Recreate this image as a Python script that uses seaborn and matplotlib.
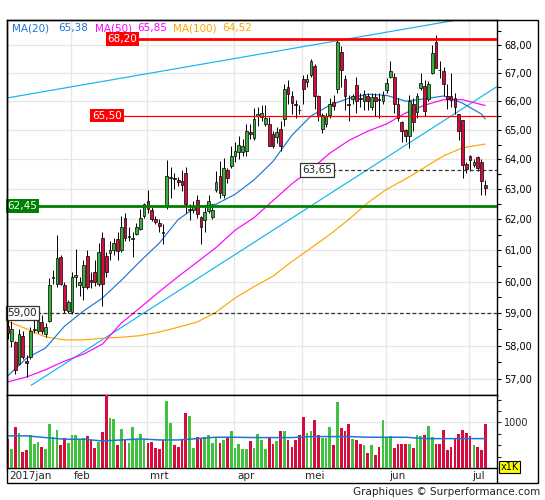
import numpy as np
import pandas as pd
import matplotlib
matplotlib.use("Agg")
import matplotlib.pyplot as plt
import matplotlib.transforms as mtransforms
from matplotlib.ticker import FixedLocator, FuncFormatter, NullFormatter
from matplotlib.patches import Rectangle
from matplotlib.lines import Line2D
import seaborn as sns

# trading days shown on the chart
holidays = ["2017-04-14", "2017-04-17", "2017-05-01"]
dates = pd.bdate_range("2017-01-09", "2017-07-07")
dates = dates[~dates.isin(pd.to_datetime(holidays))]
month_labels = ["2017jan", "feb", "mrt", "apr", "mei", "jun", "jul"]

opens = [58.62, 58.14, 58.11, 57.44, 58.30, 57.53, 57.65, 58.48, 58.45, 58.73,
         58.36, 58.76, 60.10, 59.92, 60.78, 59.88, 59.07, 59.04, 60.15, 59.90,
         59.82, 60.81, 60.05, 60.30, 59.92, 61.40, 60.80, 60.90, 61.00, 61.35,
         61.00, 62.05, 61.42, 61.38, 61.52, 61.70, 62.13, 62.62, 62.30, 62.00,
         61.90, 61.60, 62.43, 63.38, 63.38, 63.30, 63.27, 63.55, 62.30, 62.30,
         62.65, 62.07, 61.97, 62.28, 62.07, 62.98, 63.44, 62.82, 63.64, 63.77,
         64.10, 64.24, 64.24, 64.30, 64.92, 64.71, 65.50, 65.45, 65.21, 65.21,
         64.88, 64.75, 65.05, 65.38, 66.50, 66.17, 65.90, 65.70, 66.76, 66.66,
         66.93, 67.25, 66.17, 65.05, 65.21, 65.52, 65.97, 66.41, 67.75, 66.76,
         65.90, 66.07, 66.55, 66.10, 66.00, 66.17, 65.80, 66.14, 66.07, 66.00,
         66.38, 66.86, 66.83, 65.90, 65.28, 65.00, 64.79, 65.90, 65.62, 66.45,
         66.52, 66.07, 67.00, 68.10, 67.10, 67.07, 66.17, 66.17, 66.10, 65.55,
         65.35, 63.83, 64.10, 63.80, 64.07, 63.90, 63.14]
highs = [58.80, 58.75, 58.15, 58.50, 58.45, 57.72, 58.57, 58.82, 58.90, 58.95,
         58.70, 60.10, 60.38, 61.50, 60.85, 60.00, 59.42, 60.30, 61.05, 60.15,
         60.70, 61.00, 60.30, 60.70, 61.25, 61.60, 60.95, 61.30, 61.40, 61.60,
         62.10, 62.20, 61.75, 61.60, 61.90, 62.35, 62.55, 62.97, 62.40, 62.10,
         62.00, 61.85, 63.98, 63.75, 63.55, 63.40, 63.63, 63.74, 62.50, 62.60,
         62.80, 62.10, 62.40, 62.80, 62.50, 63.60, 63.95, 64.05, 63.70, 64.46,
         64.60, 64.80, 64.70, 65.20, 65.20, 65.75, 65.80, 65.85, 65.85, 65.45,
         64.95, 65.10, 65.30, 66.60, 66.75, 66.35, 66.05, 65.85, 66.90, 66.95,
         67.50, 67.30, 66.20, 65.60, 65.60, 66.10, 66.20, 68.20, 67.95, 66.90,
         66.20, 66.25, 66.85, 66.30, 66.40, 66.30, 66.30, 66.30, 66.30, 66.35,
         66.80, 67.42, 67.00, 66.10, 65.30, 65.05, 66.20, 66.10, 66.30, 67.00,
         66.75, 66.70, 68.00, 68.36, 67.40, 67.20, 66.60, 67.00, 66.30, 65.55,
         65.35, 63.90, 64.15, 64.00, 64.10, 64.00, 63.30]
lows = [58.20, 57.96, 57.15, 57.41, 57.60, 57.05, 57.60, 58.39, 58.39, 58.36,
        58.26, 58.73, 59.92, 59.82, 59.88, 59.00, 59.00, 58.98, 59.82, 59.55,
        59.41, 59.75, 59.80, 59.85, 59.85, 59.24, 60.15, 60.70, 60.85, 60.70,
        60.95, 61.30, 61.30, 60.78, 61.50, 61.65, 62.05, 62.20, 61.95, 61.85,
        61.60, 61.20, 62.34, 62.70, 63.00, 63.10, 62.94, 62.20, 61.98, 62.20,
        62.05, 61.20, 61.60, 62.20, 62.00, 62.90, 62.70, 62.70, 63.20, 63.70,
        63.90, 64.00, 64.10, 64.10, 64.70, 64.65, 65.15, 65.30, 65.15, 64.45,
        64.40, 64.55, 64.30, 65.15, 65.90, 65.55, 65.40, 65.55, 65.90, 66.50,
        66.85, 65.72, 65.30, 64.90, 65.10, 65.40, 65.70, 66.30, 66.50, 65.70,
        65.30, 65.90, 65.60, 65.80, 65.70, 65.70, 65.70, 65.50, 65.40, 65.90,
        66.30, 66.80, 65.60, 65.30, 64.60, 64.60, 64.40, 64.95, 65.40, 66.40,
        65.50, 66.00, 66.97, 67.15, 66.80, 66.17, 65.72, 65.80, 65.55, 64.65,
        63.37, 63.55, 63.60, 63.75, 63.60, 62.82, 62.80]
closes = [58.39, 58.50, 57.26, 58.36, 57.65, 57.47, 58.45, 58.50, 58.76, 58.45,
          58.57, 59.88, 60.15, 60.75, 59.92, 59.10, 59.35, 60.14, 60.20, 59.98,
          60.53, 59.82, 60.00, 59.98, 60.94, 59.92, 60.30, 61.02, 61.25, 60.98,
          61.75, 61.40, 61.45, 61.40, 61.75, 62.05, 62.50, 62.33, 62.03, 61.91,
          61.80, 61.55, 63.44, 63.40, 63.35, 63.25, 63.13, 62.50, 62.35, 62.45,
          62.18, 61.75, 62.23, 62.60, 62.30, 63.23, 62.88, 63.70, 63.37, 64.10,
          64.30, 64.50, 64.47, 64.95, 64.88, 65.38, 65.55, 65.60, 65.42, 64.47,
          64.47, 64.92, 64.47, 66.41, 66.24, 65.95, 65.88, 65.68, 66.41, 66.76,
          67.40, 66.17, 65.48, 65.52, 65.48, 65.90, 65.83, 68.10, 67.11, 66.17,
          65.85, 66.17, 66.00, 66.08, 66.24, 66.00, 66.14, 66.00, 66.05, 66.20,
          66.62, 67.07, 65.90, 65.42, 64.96, 64.79, 66.00, 65.28, 66.17, 66.62,
          65.67, 66.59, 67.71, 67.18, 67.08, 66.59, 66.07, 66.05, 65.80, 64.96,
          63.80, 63.67, 63.97, 63.90, 63.70, 63.27, 63.05]
volumes = [630, 407, 889, 778, 356, 393, 726, 519, 570, 467,
           422, 956, 681, 837, 511, 667, 556, 719, 726, 622,
           667, 704, 607, 444, 570, 800, 1593, 1089, 1074, 496,
           844, 630, 556, 889, 644, 756, 644, 556, 570, 444,
           422, 615, 1467, 978, 496, 467, 644, 1200, 1148, 444,
           681, 667, 681, 726, 556, 667, 541, 607, 667, 815,
           444, 533, 422, 422, 593, 444, 756, 607, 422, 689,
           533, 593, 807, 815, 615, 467, 622, 726, 1111, 763,
           815, 1059, 719, 667, 667, 889, 496, 1444, 867, 815,
           956, 644, 607, 519, 511, 333, 496, 274, 467, 1044,
           652, 711, 430, 533, 533, 533, 533, 430, 719, 704,
           719, 919, 689, 533, 533, 822, 400, 452, 667, 756,
           822, 778, 704, 504, 452, 400, 956]

# moving averages every 5 sessions
ma_idx = list(range(0, 126, 5)) + [126]
ma20 = [57.08, 57.62, 57.93, 58.60, 59.07, 59.48, 60.04, 60.65, 61.23, 62.00,
        62.43, 62.50, 62.83, 63.31, 63.93, 64.82, 65.48, 65.86, 66.10, 66.24,
        66.20, 66.00, 66.08, 66.18, 65.93, 65.55, 65.38]
ma50 = [56.90, 57.05, 57.27, 57.53, 57.74, 58.05, 58.70, 59.18, 59.68, 60.16,
        60.62, 61.09, 61.65, 62.06, 62.62, 63.18, 63.66, 64.21, 64.64, 64.96,
        65.21, 65.59, 65.86, 66.05, 66.05, 65.88, 65.85]
ma100 = [58.75, 58.52, 58.27, 58.18, 58.18, 58.23, 58.26, 58.31, 58.42, 58.57,
         58.73, 59.04, 59.48, 59.84, 60.17, 60.64, 61.07, 61.51, 62.00, 62.55,
         63.00, 63.34, 63.73, 64.12, 64.39, 64.50, 64.52]
vol_ma = [704, 704, 667, 630, 630, 593, 615, 637, 615, 615, 644, 674, 674, 667,
          667, 667, 689, 689, 689, 674, 674, 674, 644, 644, 644, 644, 644]

# trend lines (session index, price)
upper_idx = [-1, 126]
upper_px = [66.09, 69.07]
lower_idx = [6.2, 129]
lower_px = [56.80, 66.50]

levels = {"68,20": 68.20, "65,50": 65.50, "62,45": 62.45, "63,65": 63.65, "59,00": 59.00}
legend_vals = ["65,38", "65,85", "64,52"]

sns.set_style("white")
plt.rcParams["font.family"] = ["DejaVu Sans"]

GREEN = "#35b335"
VGREEN = "#3fc23f"
RED = "#d80b3e"
C20, C50, C100, CTREND = "#1a78d4", "#ff00ff", "#ffa500", "#12b4f0"
GRID = "#e6e6e6"

fig = plt.figure(figsize=(5.45, 5.0), dpi=100)
W, H = 545, 500
ax = fig.add_axes([7 / W, 105 / H, 490 / W, 375 / H])
axv = fig.add_axes([7 / W, 32 / H, 490 / W, 73 / H], sharex=ax)

idx = np.arange(len(dates))
month_pos = [int(np.argmax(dates.month == m)) for m in sorted(set(dates.month))]

o, h, l, c = map(np.array, (opens, highs, lows, closes))
up = c >= o
colors = np.where(up, GREEN, RED)
vcolors = np.where(up, VGREEN, RED)

# --- price panel
ax.set_yscale("log")
for p in month_pos[1:]:
    ax.axvline(p - 0.3, color=GRID, lw=0.9, zorder=0)
    axv.axvline(p - 0.3, color=GRID, lw=0.9, zorder=0)

sns.lineplot(x=upper_idx, y=upper_px, ax=ax, color=CTREND, lw=0.85, zorder=2)
sns.lineplot(x=lower_idx, y=lower_px, ax=ax, color=CTREND, lw=0.85, zorder=2)
sns.lineplot(x=ma_idx, y=ma100, ax=ax, color=C100, lw=0.85, zorder=2)
sns.lineplot(x=ma_idx, y=ma50, ax=ax, color=C50, lw=0.85, zorder=2)
sns.lineplot(x=ma_idx, y=ma20, ax=ax, color=C20, lw=0.85, zorder=2)

ax.vlines(idx, l, h, color="black", lw=0.7, zorder=3)
ax.bar(idx, np.maximum(np.abs(c - o), 0.015), bottom=np.minimum(o, c), width=0.72,
       color=colors, edgecolor="black", lw=0.5, zorder=4)

ax.axhline(levels["68,20"], xmin=0.267, color="#ff0000", lw=2, zorder=5)
ax.axhline(levels["65,50"], xmin=0.235, color="#ff0000", lw=0.9, zorder=5)
ax.axhline(levels["62,45"], xmin=0.062, color="#008000", lw=2, zorder=5)
ax.axhline(levels["63,65"], xmin=0.663, color="#333333", lw=0.9, ls=(0, (3, 2)), zorder=5)
ax.axhline(levels["59,00"], xmin=0.062, color="#333333", lw=0.9, ls=(0, (3, 2)), zorder=5)

tr = mtransforms.blended_transform_factory(ax.transAxes, ax.transData)
boxes = [("68,20", 0.2357, "#ff0000", "none", "white"),
         ("65,50", 0.204, "#ff0000", "none", "white"),
         ("62,45", 0.0316, "#008000", "none", "white"),
         ("63,65", 0.6327, "white", "#333333", "#222222"),
         ("59,00", 0.0312, "white", "#333333", "#222222")]
for txt, xf, fc, ec, tc in boxes:
    ax.text(xf, levels[txt], txt, transform=tr, ha="center", va="center", fontsize=7.5,
            color=tc, zorder=6,
            bbox=dict(boxstyle="square,pad=0.18", fc=fc, ec=ec, lw=0.9))

leg = [("MA(20)", 0.0102, C20), (legend_vals[0], 0.104, C20),
       ("MA(50)", 0.1796, C50), (legend_vals[1], 0.2653, C50),
       ("MA(100)", 0.3388, C100), (legend_vals[2], 0.4388, C100)]
for txt, xf, col in leg:
    ax.text(xf, 0.978, txt, transform=ax.transAxes, ha="left", va="center",
            fontsize=7.5, color=col, zorder=6)

ax.set_xlim(-0.16, 129.1)
ax.set_ylim(56.51, 68.89)
ax.yaxis.tick_right()
ax.yaxis.set_major_locator(FixedLocator(list(range(57, 69))))
ax.yaxis.set_major_formatter(FuncFormatter(lambda v, p: f"{v:.2f}".replace(".", ",")))
ax.yaxis.set_minor_locator(FixedLocator([v + 0.5 for v in range(56, 69)]))
ax.yaxis.set_minor_formatter(NullFormatter())
ax.tick_params(axis="y", which="both", direction="out", length=3, width=0.8,
               labelsize=7, pad=2, right=True, left=False, colors="black")
ax.tick_params(axis="x", which="both", length=0, labelbottom=False)
ax.grid(axis="y", which="major", color=GRID, lw=0.9)
ax.set_axisbelow(True)
ax.set_xlabel("")
ax.set_ylabel("")

# --- volume panel
axv.bar(idx, volumes, width=0.72, color=vcolors, lw=0, zorder=3)
sns.lineplot(x=ma_idx, y=vol_ma, ax=axv, color=C20, lw=1.1, zorder=4)
axv.set_ylim(0, 1600)
axv.yaxis.tick_right()
axv.yaxis.set_major_locator(FixedLocator([1000]))
axv.yaxis.set_major_formatter(FuncFormatter(lambda v, p: f"{v:.0f}"))
axv.yaxis.set_minor_locator(FixedLocator([250, 500, 750, 1250, 1500]))
axv.tick_params(axis="y", which="both", direction="out", length=3, width=0.8,
                labelsize=7, pad=2, right=True, left=False)
axv.grid(axis="y", which="major", color=GRID, lw=0.9)
axv.set_axisbelow(True)
axv.set_xticks(month_pos)
axv.set_xticklabels(month_labels, ha="left", fontsize=7.5)
axv.tick_params(axis="x", length=0, pad=2)
offset = mtransforms.ScaledTranslation(1.5 / 72, 0, fig.dpi_scale_trans)
for lab in axv.get_xticklabels():
    lab.set_transform(lab.get_transform() + offset)
axv.set_xlabel("")
axv.set_ylabel("")

for a in (ax, axv):
    for s in a.spines.values():
        s.set_color("black")
        s.set_linewidth(1)

# outer frame and right strip
fig.add_artist(Rectangle((7 / W, 17 / H), 531 / W, 463 / H, transform=fig.transFigure,
                         fill=False, ec="black", lw=1))
fig.add_artist(Line2D([497 / W, 497 / W], [17 / H, 32 / H], transform=fig.transFigure,
                      color="black", lw=1))
fig.text(509.5 / W, 33 / H, "x1K", ha="center", va="center", fontsize=7, color="black",
         bbox=dict(boxstyle="square,pad=0.15", fc="#ffff00", ec="black", lw=0.8))
fig.text(540 / W, 8 / H, "Graphiques \u00a9 Surperformance.com", ha="right", va="center",
         fontsize=7.5, color="#222222")

fig.savefig("out.png", dpi=100)
